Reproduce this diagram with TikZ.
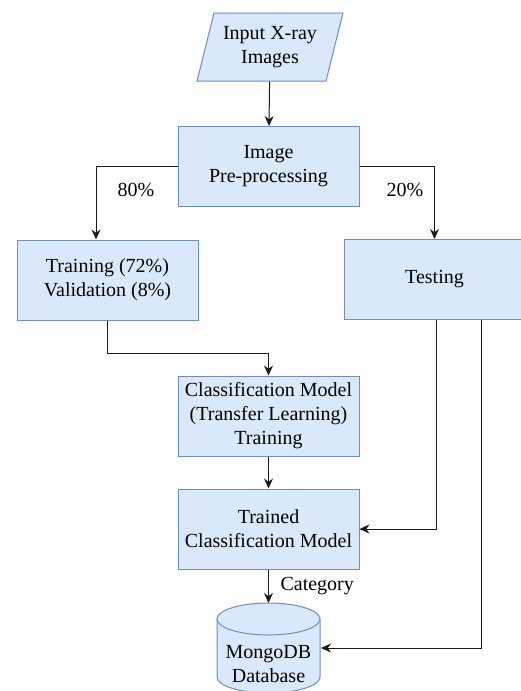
\documentclass[tikz,border=0pt]{standalone}
\usepackage{fontspec}
\setmainfont{Liberation Serif}
\usetikzlibrary{shapes.geometric,arrows.meta}
\definecolor{boxfill}{HTML}{DAE8FC}
\definecolor{boxline}{HTML}{6C8EBF}
\definecolor{wireline}{HTML}{1A1A1A}
\tikzset{
	procbox/.style={rectangle, draw=boxline, fill=boxfill, line width=1pt, minimum width=181pt, minimum height=80pt, align=center, inner sep=2pt},
	inputbox/.style={trapezium, trapezium left angle=72, trapezium right angle=108, trapezium stretches=true, draw=boxline, fill=boxfill, line width=1pt, minimum width=146pt, minimum height=68pt, align=center, inner sep=2pt},
	dbshape/.style={draw=boxline, fill=boxfill, line width=1pt},
	flow/.style={draw=wireline, line width=1pt, -{Stealth[length=10pt,width=9pt]}},
}
\begin{document}
\begin{tikzpicture}[x=1pt, y=-1pt, font=\rmfamily\fontsize{20}{24}\selectfont]
				\useasboundingbox (0,0) rectangle (521,691);
				\clip (0,0) rectangle (521,691);
				\coordinate (I) at (270, 47);
				\coordinate (P) at (268.5, 166.5);
				\coordinate (T) at (107.5, 280);
				\coordinate (S) at (434.5, 279.5);
				\coordinate (C) at (268.5, 416);
				\coordinate (M) at (268.5, 529);
				\coordinate (D) at (268.5, 664);
				\coordinate (dbtop) at (268.5, 603);
				\coordinate (dbright) at (321, 648);
				% cylinder
				\draw[dbshape] (217, 619) -- (217, 677) arc[start angle=180, end angle=0, x radius=51.5, y radius=16] -- (320, 619);
				\draw[dbshape] (268.5, 619) ellipse[x radius=51.5, y radius=16];
				\node[inputbox] (input) at (I) {Input X-ray\\Images};
				\node[procbox] (prep) at (P) {Image\\Pre-processing};
				\node[procbox] (train) at (T) {Training (72\%)\\Validation (8\%)};
				\node[procbox] (test) at (S) {Testing};
				\node[procbox] (clsmodel) at (C) {Classification Model\\(Transfer Learning)\\Training};
				\node[procbox] (trained) at (M) {Trained\\Classification Model};
				\node[align=center] (db) at (D) {MongoDB\\Database};
				\draw[flow] (input) -- (prep);
				\draw[flow] (prep.west) -| ([xshift=-11.5pt]train.north);
				\draw[flow] (prep.east) -| (test.north);
				\draw[flow] (train.south) -- ++(0, 33) -| (clsmodel.north);
				\draw[flow] (clsmodel) -- (trained);
				\draw[flow] ([xshift=1.5pt]test.south) |- (trained.east);
				\draw[flow] ([xshift=46.5pt]test.south) |- (dbright);
				\draw[flow] (trained) -- (dbtop);
				\node (p80) at (136, 190) {80\%};
				\node (p20) at (405, 190) {20\%};
				\node[right] (cat) at (277, 586) {Category};
			\end{tikzpicture}
\end{document}
